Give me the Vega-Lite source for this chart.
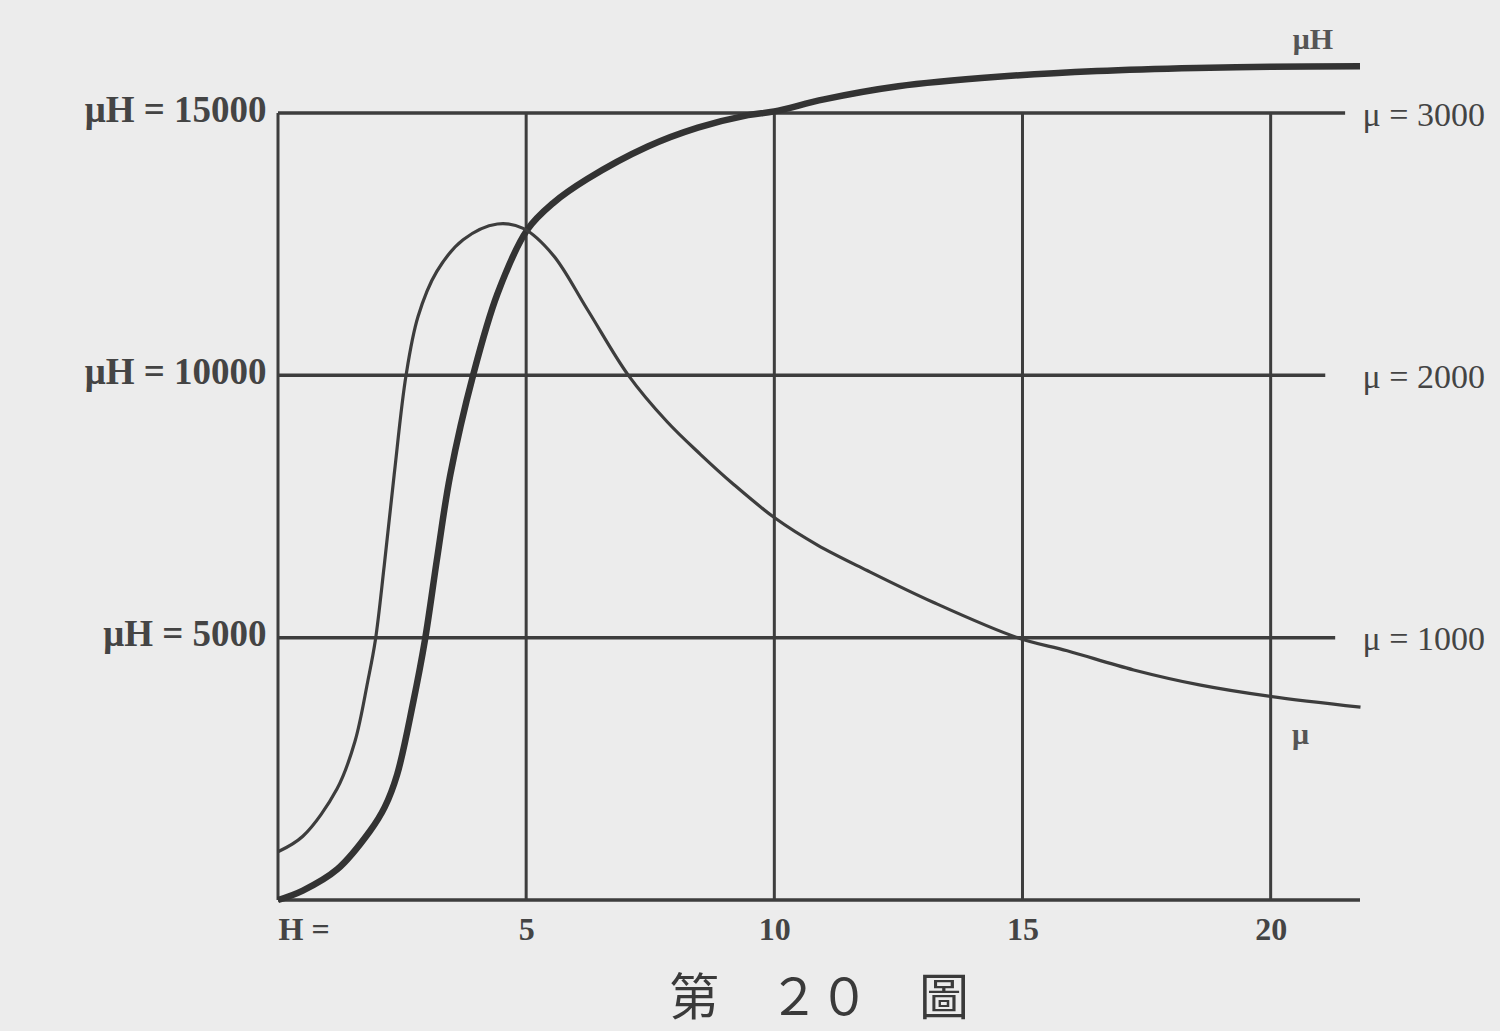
{
  "$schema": "https://vega.github.io/schema/vega-lite/v6.json",
  "width": 1082,
  "height": 787,
  "autosize": {"type": "none"},
  "padding": {"left": 278, "top": 113, "right": 140, "bottom": 131},
  "background": "#ececec",
  "config": {
    "view": {"stroke": null},
    "axis": {"grid": false, "domain": false, "ticks": false, "labelLimit": 400}
  },
  "title": {
    "text": "第　２０　圖",
    "orient": "bottom",
    "anchor": "middle",
    "frame": "group",
    "font": "Noto Sans CJK TC",
    "fontSize": 50,
    "fontWeight": "normal",
    "color": "#3a3a3a",
    "offset": 30
  },
  "datasets": {
    "hgrid": [
      {"H": 0, "H2": 21.8, "v": 0},
      {"H": 0, "H2": 21.3, "v": 5000},
      {"H": 0, "H2": 21.1, "v": 10000},
      {"H": 0, "H2": 21.5, "v": 15000}
    ],
    "vgrid": [
      {"H": 0, "v0": 0, "v1": 15000},
      {"H": 5, "v0": 0, "v1": 15000},
      {"H": 10, "v0": 0, "v1": 15000},
      {"H": 15, "v0": 0, "v1": 15000},
      {"H": 20, "v0": 0, "v1": 15000}
    ],
    "muH": [
      {"H": 0, "muH": 0},
      {"H": 0.5, "muH": 180},
      {"H": 1.2, "muH": 590},
      {"H": 1.85, "muH": 1310},
      {"H": 2.15, "muH": 1770},
      {"H": 2.4, "muH": 2390},
      {"H": 2.72, "muH": 3750},
      {"H": 2.96, "muH": 4950},
      {"H": 3.21, "muH": 6540},
      {"H": 3.47, "muH": 8100},
      {"H": 3.93, "muH": 10000},
      {"H": 4.42, "muH": 11550},
      {"H": 5.02, "muH": 12770},
      {"H": 5.54, "muH": 13280},
      {"H": 6.23, "muH": 13740},
      {"H": 7.45, "muH": 14360},
      {"H": 8.46, "muH": 14720},
      {"H": 9.47, "muH": 14960},
      {"H": 10, "muH": 15030},
      {"H": 11, "muH": 15260},
      {"H": 12.5, "muH": 15510},
      {"H": 14.5, "muH": 15690},
      {"H": 16.5, "muH": 15800},
      {"H": 18.5, "muH": 15860},
      {"H": 20, "muH": 15880},
      {"H": 21.8, "muH": 15890}
    ],
    "mu": [
      {"H": 0, "mu": 184},
      {"H": 0.5, "mu": 243},
      {"H": 1.19, "mu": 424},
      {"H": 1.55, "mu": 604},
      {"H": 1.81, "mu": 835},
      {"H": 1.96, "mu": 988},
      {"H": 2.14, "mu": 1274},
      {"H": 2.34, "mu": 1620},
      {"H": 2.58, "mu": 2000},
      {"H": 2.82, "mu": 2223},
      {"H": 3.2, "mu": 2396},
      {"H": 3.73, "mu": 2517},
      {"H": 4.42, "mu": 2577},
      {"H": 4.94, "mu": 2560},
      {"H": 5.54, "mu": 2459},
      {"H": 6.23, "mu": 2252},
      {"H": 7.06, "mu": 2000},
      {"H": 7.84, "mu": 1823},
      {"H": 8.51, "mu": 1699},
      {"H": 9.17, "mu": 1586},
      {"H": 10.02, "mu": 1455},
      {"H": 10.87, "mu": 1353},
      {"H": 11.87, "mu": 1256},
      {"H": 13.2, "mu": 1135},
      {"H": 14.9, "mu": 1000},
      {"H": 15.9, "mu": 950},
      {"H": 17.24, "mu": 877},
      {"H": 18.59, "mu": 819},
      {"H": 19.96, "mu": 777},
      {"H": 21.81, "mu": 735}
    ],
    "curveLabels": [
      {"H": 20.85, "v": 16390, "label": "μH"},
      {"H": 20.6, "v": 3145, "label": "μ"}
    ]
  },
  "encoding": {
    "x": {
      "field": "H", "type": "quantitative",
      "scale": {"domain": [0, 21.8], "nice": false, "zero": false},
      "axis": {
        "orient": "bottom",
        "values": [0, 5, 10, 15, 20],
        "labelExpr": "datum.value == 0 ? 'H =' : datum.label",
        "labelAlign": {"condition": {"test": "datum.value == 0", "value": "left"}, "value": "center"},
        "labelFont": "Liberation Serif",
        "labelFontSize": 32,
        "labelFontWeight": "bold",
        "labelColor": "#444444",
        "labelPadding": 14,
        "title": null
      }
    }
  },
  "layer": [
    {
      "data": {"name": "hgrid"},
      "mark": {"type": "rule", "color": "#3d3d3d", "strokeWidth": 3.5},
      "encoding": {
        "x2": {"field": "H2"},
        "y": {
          "field": "v", "type": "quantitative",
          "scale": {"domain": [0, 15000], "nice": false, "zero": true},
          "axis": {
            "orient": "left",
            "values": [5000, 10000, 15000],
            "labelExpr": "'μH = ' + datum.value",
            "labelFont": "Liberation Serif",
            "labelFontSize": 37,
            "labelFontWeight": "bold",
            "labelColor": "#444444",
            "labelPadding": 12,
            "labelOffset": -3,
            "title": null
          }
        }
      }
    },
    {
      "data": {"name": "vgrid"},
      "mark": {"type": "rule", "color": "#3d3d3d", "strokeWidth": 3},
      "encoding": {
        "y": {"field": "v0", "type": "quantitative", "scale": {"domain": [0, 15000], "nice": false}, "axis": null},
        "y2": {"field": "v1"}
      }
    },
    {
      "data": {"name": "muH"},
      "mark": {"type": "line", "color": "#333333", "strokeWidth": 6.5, "interpolate": "catmull-rom"},
      "encoding": {
        "y": {"field": "muH", "type": "quantitative", "scale": {"domain": [0, 15000], "nice": false}, "axis": null}
      }
    },
    {
      "data": {"name": "mu"},
      "mark": {"type": "line", "color": "#3d3d3d", "strokeWidth": 3.2, "interpolate": "catmull-rom"},
      "encoding": {
        "y": {
          "field": "mu", "type": "quantitative",
          "scale": {"domain": [0, 3000], "nice": false},
          "axis": {
            "orient": "right",
            "values": [1000, 2000, 3000],
            "labelExpr": "'μ = ' + datum.value",
            "labelFont": "Liberation Serif",
            "labelFontSize": 34,
            "labelColor": "#444444",
            "labelPadding": 2,
            "labelOffset": 2,
            "title": null
          }
        }
      }
    },
    {
      "data": {"name": "curveLabels"},
      "mark": {"type": "text", "font": "Liberation Serif", "fontSize": 30, "fontWeight": "bold", "color": "#555555", "align": "center", "baseline": "middle"},
      "encoding": {
        "y": {"field": "v", "type": "quantitative", "scale": {"domain": [0, 15000], "nice": false}, "axis": null},
        "text": {"field": "label"}
      }
    }
  ],
  "resolve": {"scale": {"y": "independent"}, "axis": {"y": "independent"}}
}
